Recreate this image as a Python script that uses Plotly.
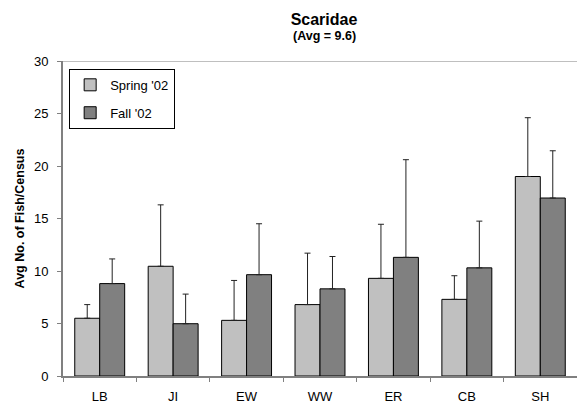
import plotly.graph_objects as go

sites = ["LB", "JI", "EW", "WW", "ER", "CB", "SH"]
spring = [5.5, 10.45, 5.3, 6.8, 9.3, 7.3, 19.0]
spring_err = [1.3, 5.85, 3.8, 4.9, 5.15, 2.25, 5.6]
fall = [8.8, 4.98, 9.65, 8.3, 11.3, 10.3, 16.95]
fall_err = [2.35, 2.82, 4.85, 3.08, 9.3, 4.45, 4.5]
zeros = [0] * len(sites)

fig = go.Figure()
fig.add_trace(go.Bar(
    x=sites, y=spring, name="Spring '02", legendgroup="a",
    marker=dict(color="#C0C0C0", line=dict(color="#000000", width=1)),
    error_y=dict(type="data", array=spring_err, arrayminus=zeros, symmetric=False,
                 color="#222222", thickness=1, width=3),
))
fig.add_trace(go.Bar(
    x=sites, y=fall, name="Fall '02", legendgroup="b",
    marker=dict(color="#808080", line=dict(color="#000000", width=1)),
    error_y=dict(type="data", array=fall_err, arrayminus=zeros, symmetric=False,
                 color="#222222", thickness=1, width=3),
))

fig.add_shape(type="line", xref="paper", x0=0, x1=1, yref="y", y0=30, y1=30,
              line=dict(color="#808080", width=1), layer="below")

fig.add_annotation(text="<b>(Avg = 9.6)</b>", xref="paper", yref="paper",
                   x=0.508, y=1.078, xanchor="center", yanchor="middle",
                   showarrow=False, font=dict(size=12.5))

fig.update_layout(
    width=577, height=403,
    margin=dict(l=63, r=0, t=61, b=27),
    paper_bgcolor="white", plot_bgcolor="white",
    font=dict(family="Liberation Sans, Arial, sans-serif", size=13, color="#000000"),
    barmode="group", bargap=0.32, bargroupgap=0,
    title=dict(text="<b>Scaridae</b>", x=0.5615, xanchor="center",
               y=0.953, yanchor="middle", font=dict(size=16)),
    legend=dict(x=0.012, y=0.975, xanchor="left", yanchor="top",
                bgcolor="white", bordercolor="#000000", borderwidth=1,
                font=dict(size=13), traceorder="grouped", tracegroupgap=8,
                itemwidth=30),
    showlegend=True,
    xaxis=dict(showline=True, linecolor="#808080", linewidth=2,
               ticks="outside", tickson="boundaries", ticklen=4, tickcolor="#808080",
               showgrid=False, tickfont=dict(size=13), ticklabelstandoff=7),
    yaxis=dict(range=[0, 30], tickvals=[0, 5, 10, 15, 20, 25, 30],
               showline=True, linecolor="#808080", linewidth=2,
               ticks="outside", ticklen=4, tickcolor="#808080",
               showgrid=False, zeroline=False, tickfont=dict(size=13),
               ticklabelstandoff=6,
               title=dict(text="<b>Avg No. of Fish/Census</b>", font=dict(size=12.5), standoff=7)),
)

fig.write_html("out.html")
